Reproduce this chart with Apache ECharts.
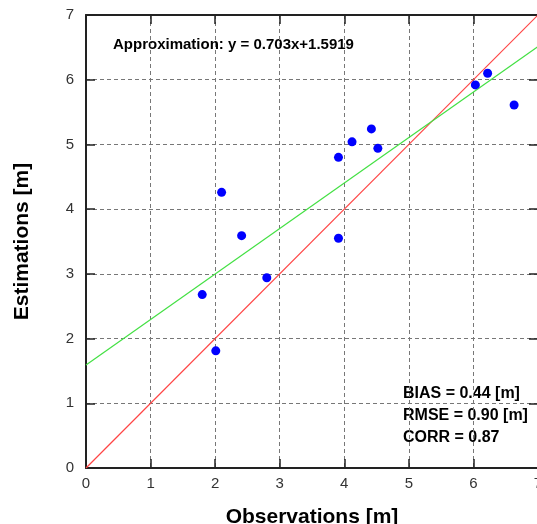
<!DOCTYPE html>
<html><head><meta charset="utf-8">
<script src="https://cdn.jsdelivr.net/npm/echarts@6/dist/echarts.min.js"></script>
<style>html,body{margin:0;padding:0;background:#fff;overflow:hidden}#c{width:537px;height:524px}</style>
</head><body><div id="c"></div>
<script>
const obsX = [1.80, 2.01, 2.10, 2.41, 2.80, 3.91, 3.91, 4.12, 4.42, 4.52, 6.03, 6.22, 6.63];
const estY = [2.68, 1.81, 4.26, 3.59, 2.94, 3.55, 4.80, 5.04, 5.24, 4.94, 5.92, 6.10, 5.61];
const slope = 0.703, intercept = 1.5919;
const lineX = [0, 7];
const approxText = 'Approximation: y = 0.703x+1.5919';
const statsText = ['BIAS = 0.44 [m]', 'RMSE = 0.90 [m]', 'CORR = 0.87'];

const font = '"Liberation Sans", Arial, Helvetica, sans-serif';
const chart = echarts.init(document.getElementById('c'), null, {renderer: 'canvas'});
const axBase = {
  min: 0, max: 7, interval: 1,
  axisLine: {show: true, onZero: false, lineStyle: {color: '#222', width: 2}},
  axisTick: {show: true, inside: true, length: 9, lineStyle: {color: '#222', width: 1.5}},
};
chart.setOption({
  animation: false,
  grid: {left: 86, top: 15, right: -1, bottom: 56, containLabel: false, outerBoundsMode: 'none'},
  xAxis: [
    Object.assign({}, axBase, {type: 'value', position: 'bottom',
      name: 'Observations [m]', nameLocation: 'middle', nameGap: 39,
      nameTextStyle: {fontFamily: font, fontWeight: 'bold', fontSize: 21, color: '#000'},
      axisLabel: {show: true, fontFamily: font, fontSize: 15, color: '#333', margin: 8},
      splitLine: {show: true, lineStyle: {type: [4, 3], color: '#777', width: 1}}}),
    Object.assign({}, axBase, {type: 'value', position: 'top',
      axisLabel: {show: false}, splitLine: {show: false}})
  ],
  yAxis: [
    Object.assign({}, axBase, {type: 'value', position: 'left',
      name: 'Estimations [m]', nameLocation: 'middle', nameGap: 53,
      nameTextStyle: {fontFamily: font, fontWeight: 'bold', fontSize: 21, color: '#000'},
      axisLabel: {show: true, fontFamily: font, fontSize: 15, color: '#333', margin: 12},
      splitLine: {show: true, lineStyle: {type: [4, 3], color: '#777', width: 1}}}),
    Object.assign({}, axBase, {type: 'value', position: 'right',
      axisLabel: {show: false}, splitLine: {show: false}})
  ],
  series: [
    {type: 'line', data: lineX.map(x => [x, x]), symbol: 'none',
      lineStyle: {color: '#ff4444', width: 1.2}, z: 3},
    {type: 'line', data: lineX.map(x => [x, slope * x + intercept]), symbol: 'none',
      lineStyle: {color: '#44e044', width: 1.2}, z: 3},
    {type: 'scatter', data: obsX.map((x, i) => [x, estY[i]]), symbol: 'circle', symbolSize: 9,
      itemStyle: {color: '#0000ff', opacity: 1}, z: 4}
  ],
  graphic: [
    {type: 'text', left: 113, top: 37, style: {text: approxText, font: 'bold 15px ' + font, fill: '#000'}},
    {type: 'text', left: 403, top: 386, style: {text: statsText[0], font: 'bold 16px ' + font, fill: '#000'}},
    {type: 'text', left: 403, top: 408, style: {text: statsText[1], font: 'bold 16px ' + font, fill: '#000'}},
    {type: 'text', left: 403, top: 430, style: {text: statsText[2], font: 'bold 16px ' + font, fill: '#000'}}
  ]
});
</script></body></html>
